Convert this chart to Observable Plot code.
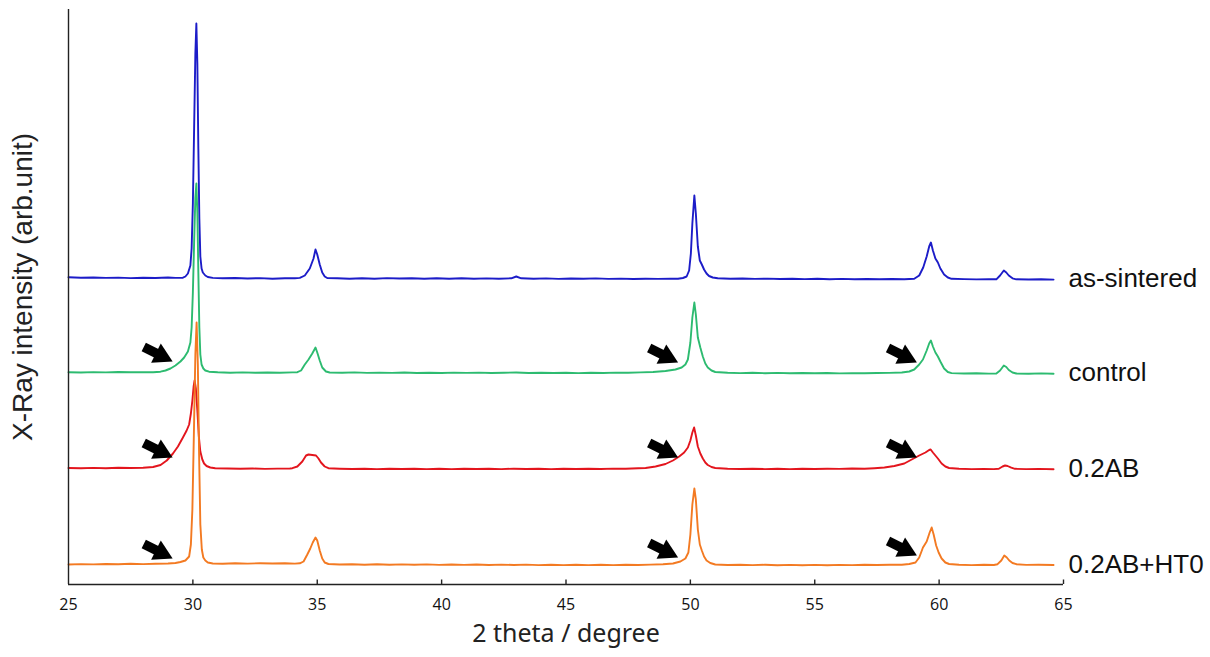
<!DOCTYPE html>
<html>
<head>
<meta charset="utf-8">
<script src="https://cdn.jsdelivr.net/npm/d3@7"></script>
<script src="https://cdn.jsdelivr.net/npm/@observablehq/plot@0.6"></script>
<style>
  html, body { margin: 0; padding: 0; background: #ffffff; }
  svg { display: block; }
</style>
</head>
<body>
<div id="chart"></div>
<script>
// ---- data (2θ in degrees, intensity above each trace's own baseline, arb. units) ----
const seriesNames = ["as-sintered", "control", "0.2AB", "0.2AB+HT0"];
const seriesColors = ["#1c1cc8", "#2dbb70", "#e3151d", "#f37a22"];
const seriesOffsets = [306, 212, 116, 20];
const xTicks = [25, 30, 35, 40, 45, 50, 55, 60, 65];

const asSintered = [[25.0,1.2],[25.5,0.8],[26.0,1.0],[26.5,0.6],[27.0,0.9],[27.5,0.4],[28.0,0.8],[28.5,0.5],[29.0,1.0],[29.3,0.6],[29.6,0.8],[29.7,2],[29.8,5],[29.9,13],[29.95,30],[30.0,75],[30.05,150],[30.1,225],[30.14,255],[30.18,215],[30.22,130],[30.26,60],[30.3,22],[30.35,10],[30.4,6],[30.5,3],[30.6,1.5],[30.8,0.6],[31.2,0.2],[31.7,0.5],[32.2,0],[32.7,0.4],[33.2,-0.2],[33.7,0.3],[34.1,0.2],[34.3,0.6],[34.5,3],[34.7,10],[34.85,20],[34.93,29],[35.0,24],[35.1,14],[35.2,6],[35.3,2],[35.4,0.5],[35.8,0.2],[36.3,-0.3],[36.8,0.3],[37.3,-0.2],[37.8,0.4],[38.3,0],[38.8,0.3],[39.3,-0.3],[39.8,0.2],[40.3,-0.2],[40.8,0.3],[41.3,-0.3],[41.8,0.1],[42.3,-0.2],[42.8,0.2],[43.0,2],[43.2,0.2],[43.7,-0.2],[44.2,0.1],[44.7,-0.4],[45.2,0],[45.7,-0.3],[46.2,0.1],[46.7,-0.4],[47.2,-0.1],[47.7,-0.5],[48.2,-0.2],[48.7,-0.4],[49.2,-0.1],[49.5,-0.3],[49.7,0.5],[49.85,2],[49.95,8],[50.02,25],[50.08,55],[50.16,83],[50.22,65],[50.3,32],[50.38,18],[50.46,14],[50.55,9],[50.65,5],[50.75,2.5],[50.9,1],[51.1,0.2],[51.6,-0.3],[52.1,0],[52.6,-0.4],[53.1,-0.1],[53.6,-0.5],[54.1,-0.2],[54.6,-0.6],[55.1,-0.3],[55.6,-0.7],[56.1,-0.4],[56.6,-0.8],[57.1,-0.5],[57.6,-0.8],[58.1,-0.5],[58.6,-0.7],[59.0,-0.3],[59.2,3],[59.36,11],[59.5,22],[59.6,32],[59.67,36],[59.75,28],[59.85,20],[59.95,16],[60.05,10],[60.2,4],[60.35,1],[60.5,-0.3],[61.0,-0.6],[61.5,-0.9],[62.0,-0.7],[62.3,-0.8],[62.45,3],[62.6,8],[62.7,6],[62.8,3],[62.95,0.2],[63.1,-0.8],[63.6,-1.0],[64.1,-0.8],[64.6,-1.1]];

const control = [[25.0,0.3],[25.5,0],[26.0,0.4],[26.5,0.1],[27.0,0.5],[27.5,0.2],[28.0,0.4],[28.4,0.3],[28.7,0.8],[28.9,2],[29.1,4],[29.3,7],[29.5,11],[29.65,15],[29.8,21],[29.9,30],[29.95,45],[30.0,80],[30.05,130],[30.1,175],[30.14,189],[30.18,160],[30.22,100],[30.26,45],[30.3,18],[30.35,8],[30.42,4],[30.5,2],[30.65,0.8],[31.0,0.2],[31.5,-0.2],[32.0,0.1],[32.5,-0.3],[33.0,0],[33.5,-0.2],[34.0,0.1],[34.2,0.3],[34.35,2],[34.5,8],[34.65,13],[34.8,19],[34.93,25],[35.0,20],[35.1,12],[35.2,5],[35.35,1],[35.5,0],[36.0,-0.3],[36.5,0.1],[37.0,-0.4],[37.5,-0.1],[38.0,-0.4],[38.5,0],[39.0,-0.5],[39.5,-0.2],[40.0,-0.5],[40.5,-0.1],[41.0,-0.4],[41.5,-0.1],[42.0,-0.5],[42.5,-0.2],[43.0,0],[43.5,-0.5],[44.0,-0.2],[44.5,-0.5],[45.0,-0.2],[45.5,-0.6],[46.0,-0.3],[46.5,-0.5],[47.0,-0.1],[47.5,-0.3],[48.0,0.1],[48.5,0.5],[49.0,1.5],[49.4,3],[49.65,5],[49.8,8],[49.9,13],[50.0,30],[50.08,55],[50.16,70],[50.22,58],[50.3,35],[50.4,25],[50.5,16],[50.6,9],[50.7,5],[50.85,2],[51.0,0.5],[51.5,-0.3],[52.0,-0.6],[52.5,-0.3],[53.0,-0.7],[53.5,-0.4],[54.0,-0.8],[54.5,-0.5],[55.0,-0.8],[55.5,-0.5],[56.0,-0.9],[56.5,-0.6],[57.0,-0.8],[57.5,-0.5],[58.0,-0.4],[58.5,0],[58.8,1],[59.0,3],[59.2,8],[59.35,13],[59.5,22],[59.6,29],[59.67,32],[59.75,26],[59.85,20],[59.95,16],[60.05,11],[60.2,4],[60.35,0.5],[60.5,-0.6],[61.0,-1.0],[61.5,-0.8],[62.0,-1.1],[62.3,-1.0],[62.45,2],[62.6,7],[62.7,5.5],[62.8,2.5],[62.95,0],[63.1,-1.0],[63.6,-1.2],[64.1,-0.9],[64.6,-1.2]];

const ab02 = [[25.0,0.5],[25.5,0.2],[26.0,0.6],[26.5,0.3],[27.0,0.7],[27.5,0.5],[28.0,0.8],[28.4,1.5],[28.7,3.5],[28.95,8],[29.2,15],[29.4,22],[29.6,31],[29.75,38],[29.85,44],[29.92,55],[29.98,68],[30.03,82],[30.07,88],[30.12,80],[30.18,58],[30.24,32],[30.3,17],[30.38,9],[30.45,5],[30.55,2.5],[30.7,1],[30.9,0.3],[31.4,0],[31.9,-0.3],[32.4,0],[32.9,-0.4],[33.4,-0.1],[33.9,0],[34.0,0.3],[34.2,2],[34.4,7],[34.55,13],[34.65,14],[34.8,13.5],[34.95,13],[35.05,10],[35.15,6],[35.3,2],[35.45,0.3],[35.9,-0.2],[36.4,-0.5],[36.9,-0.2],[37.4,-0.6],[37.9,-0.3],[38.4,-0.5],[38.9,-0.2],[39.4,-0.6],[39.9,-0.3],[40.4,-0.6],[40.9,-0.2],[41.4,-0.5],[41.9,-0.3],[42.4,-0.6],[42.9,-0.2],[43.4,-0.5],[43.9,-0.3],[44.4,-0.6],[44.9,-0.2],[45.4,-0.5],[45.9,-0.2],[46.4,-0.5],[46.9,-0.1],[47.4,-0.3],[47.9,0.2],[48.2,0.5],[48.6,2],[49.0,4.5],[49.3,8],[49.55,12],[49.75,16],[49.9,21],[50.0,28],[50.08,36],[50.15,41],[50.22,33],[50.3,22],[50.4,15],[50.5,10],[50.6,6],[50.7,3.5],[50.85,1.5],[51.0,0.5],[51.5,-0.2],[52.0,-0.5],[52.5,-0.2],[53.0,-0.6],[53.5,-0.3],[54.0,-0.6],[54.5,-0.3],[55.0,-0.5],[55.5,-0.2],[56.0,-0.4],[56.5,0],[57.0,-0.2],[57.4,0.3],[57.8,1],[58.2,2.5],[58.6,5],[58.9,9],[59.2,13],[59.45,16],[59.6,18.5],[59.66,19],[59.75,16],[59.85,13],[59.95,10],[60.1,5],[60.25,2],[60.4,0.5],[60.8,-0.3],[61.3,-0.6],[61.8,-0.4],[62.2,-0.6],[62.4,-0.3],[62.55,2],[62.65,3],[62.75,2.5],[62.9,0.8],[63.05,-0.3],[63.5,-0.6],[64.0,-0.4],[64.6,-0.7]];

const ab02ht0 = [[25.0,0],[25.5,0.4],[26.0,0.1],[26.5,0.5],[27.0,0.3],[27.5,0.7],[28.0,0.4],[28.5,0.8],[29.0,1],[29.3,1.5],[29.5,2.5],[29.7,4],[29.85,8],[29.92,20],[29.98,55],[30.04,130],[30.1,210],[30.15,242],[30.2,200],[30.25,110],[30.3,40],[30.36,15],[30.42,7],[30.5,4],[30.6,2],[30.8,1],[31.2,0.8],[31.7,1.2],[32.2,0.9],[32.7,1.3],[33.2,1.0],[33.7,1.2],[34.1,0.9],[34.3,1.2],[34.45,3],[34.6,10],[34.72,16],[34.82,22],[34.93,27],[35.0,24],[35.1,14],[35.2,6],[35.3,2],[35.45,0.5],[35.9,0],[36.4,0.3],[36.9,-0.2],[37.4,0.2],[37.9,-0.3],[38.4,0.1],[38.9,-0.3],[39.4,0.1],[39.9,-0.4],[40.4,0],[40.9,-0.4],[41.4,0],[41.9,-0.5],[42.4,-0.1],[42.9,-0.5],[43.4,-0.1],[43.9,-0.6],[44.4,-0.2],[44.9,-0.6],[45.4,-0.2],[45.9,-0.6],[46.4,-0.3],[46.9,-0.6],[47.4,-0.2],[47.9,-0.5],[48.4,-0.1],[48.9,0.3],[49.3,1],[49.6,3],[49.8,6],[49.92,12],[50.0,30],[50.08,60],[50.16,76],[50.22,65],[50.3,35],[50.38,20],[50.46,14],[50.55,8],[50.65,4],[50.8,1.5],[51.0,0],[51.5,-0.5],[52.0,-0.2],[52.5,-0.6],[53.0,-0.3],[53.5,-0.7],[54.0,-0.4],[54.5,-0.7],[55.0,-0.4],[55.5,-0.7],[56.0,-0.4],[56.5,-0.6],[57.0,-0.3],[57.5,-0.5],[58.0,-0.2],[58.5,-0.3],[58.8,0.5],[59.05,2],[59.2,7],[59.35,17],[59.5,23],[59.62,32],[59.7,37],[59.78,30],[59.88,19],[59.98,12],[60.1,6],[60.25,2],[60.4,0.5],[60.8,-0.3],[61.3,-0.6],[61.8,-0.3],[62.2,-0.5],[62.35,0.3],[62.5,4],[62.62,9],[62.72,7],[62.82,4],[62.95,1.5],[63.1,0.3],[63.5,-0.4],[64.0,-0.2],[64.6,-0.5]];

const seriesData = [asSintered, control, ab02, ab02ht0];

// arrow annotations: tip positions (2θ, plotted intensity)
const arrowTipX = [29.19, 29.19, 29.19, 49.51, 49.51, 49.51, 59.11, 59.11, 59.11];
const arrowTipY = [223, 127, 26, 222, 127, 27, 222, 127, 29];

// ---- build ----
const width = 1210, height = 657;
const marginLeft = 68, marginRight = 147, marginTop = 9, marginBottom = 73;
const pxPerDeg = (width - marginLeft - marginRight) / 40;   // x scale factor
const pxPerUnit = (height - marginTop - marginBottom) / 575; // y scale factor

const arrows = arrowTipX.map((x, i) => {
  const y = arrowTipY[i];
  return {
    tipX: x, tipY: y,
    tailX: x - 29 / pxPerDeg, tailY: y + 14.5 / pxPerUnit,
    headX: x - 9 / pxPerDeg, headY: y + 4.5 / pxPerUnit
  };
});

const lineMarks = seriesData.map((data, i) =>
  Plot.line(data, {
    x: d => d[0],
    y: d => d[1] + seriesOffsets[i],
    stroke: seriesColors[i],
    strokeWidth: 1.9,
    curve: "linear"
  })
);

const labels = seriesNames.map((name, i) => ({name, y: seriesOffsets[i]}));

const chart = Plot.plot({
  width, height, marginLeft, marginRight, marginTop, marginBottom,
  style: {fontFamily: "Open Sans, sans-serif", fontSize: "16px", color: "#111", background: "#ffffff"},
  x: {domain: [25, 65], axis: null},
  y: {domain: [0, 575], axis: null},
  marks: [
    ...lineMarks,
    // axes frame
    Plot.ruleY([0], {stroke: "#222", strokeWidth: 1.4}),
    Plot.ruleX([25], {y1: 0, y2: 575, stroke: "#222", strokeWidth: 1.4}),
    Plot.ruleX(xTicks.slice(1), {y1: 0, y2: 4.5 / pxPerUnit, stroke: "#222", strokeWidth: 1.4}),
    Plot.axisX({ticks: xTicks, tickSize: 0, tickPadding: 14, tickFormat: d => String(d),
      fontFamily: "Open Sans, sans-serif", fontSize: 16, fill: "#111", label: null}),
    // x label
    Plot.text(["2 theta / degree"], {text: d => d, frameAnchor: "bottom", dy: 57,
      fontFamily: "Noto Sans, sans-serif", fontSize: 25, fill: "#222"}),
    // y label
    Plot.text(["X-Ray intensity (arb.unit)"], {text: d => d, frameAnchor: "left", textAnchor: "middle",
      rotate: -90, dx: -45, dy: -10,
      fontFamily: "Liberation Sans, Arial, sans-serif", fontSize: 28, fill: "#222"}),
    // series labels
    Plot.text(labels, {x: 65, y: "y", text: "name", textAnchor: "start", dx: 5,
      fontFamily: "Liberation Sans, Arial, sans-serif", fontSize: 26, fill: "#111"}),
    // arrows: shaft + filled head
    Plot.link(arrows, {x1: "tailX", y1: "tailY", x2: "headX", y2: "headY",
      stroke: "#000", strokeWidth: 9.5, strokeLinecap: "butt"}),
    Plot.dot(arrows, {x: "tipX", y: "tipY", symbol: "triangle", r: 8, fill: "#000", stroke: "none",
      rotate: 116.6, dx: -11.2, dy: -5.6})
  ]
});

document.getElementById("chart").appendChild(chart);
</script>
</body>
</html>
